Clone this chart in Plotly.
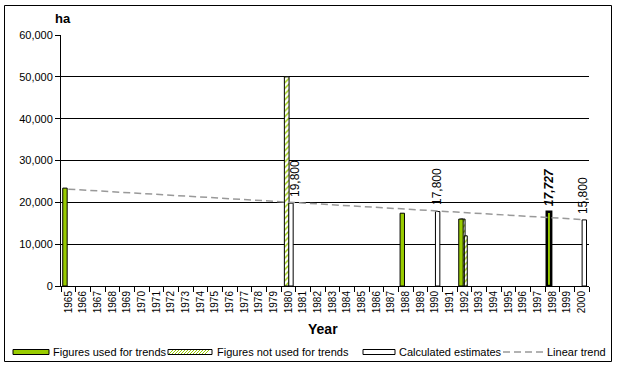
import plotly.graph_objects as go

# ---------------- data ----------------
years = ["1965", "1966", "1967", "1968", "1969", "1970", "1971", "1972", "1973",
         "1974", "1975", "1976", "1977", "1978", "1979", "1980", "1981", "1982",
         "1983", "1984", "1985", "1986", "1987", "1988", "1989", "1990", "1991",
         "1992", "1993", "1994", "1995", "1996", "1997", "1998", "1999", "2000"]

used_years = ["1965", "1988", "1992", "1998"]
used_values = [23400, 17400, 16000, 17727]

not_used_years = ["1980", "1992"]
not_used_values = [50000, 16000]

not_used2_years = ["1992"]
not_used2_values = [12000]

estimate_years = ["1980", "1990", "2000"]
estimate_values = [19800, 17800, 15800]

trend_years = ["1965", "2000"]
trend_values = [23150, 15900]

highlight_year = "1998"

series_names = ["Figures used for trends", "Figures not used for trends",
                "Calculated estimates", "Linear trend"]

y_ticks = [0, 10000, 20000, 30000, 40000, 50000, 60000]

# ---------------- styling ----------------
W, H = 618, 367
GREEN = "#99cc00"
FONT = "Liberation Sans, Arial, sans-serif"
PL, PR, PT, PB = 61, 589, 35, 286  # plot area in pixels


def px(x):
    return x / W


def py(y):
    return 1 - y / H


fig = go.Figure()

hatch = dict(shape="/", fgcolor=GREEN, bgcolor="white", size=4, solidity=0.35)

fig.add_trace(go.Bar(
    x=not_used_years, y=not_used_values, name=series_names[1],
    offset=-0.27, width=0.32,
    marker=dict(color="white", line=dict(color="black", width=1), pattern=hatch),
    showlegend=False,
))
fig.add_trace(go.Bar(
    x=not_used2_years, y=not_used2_values, name=series_names[1],
    offset=0.0, width=0.2,
    marker=dict(color="white", line=dict(color="black", width=1), pattern=hatch),
    showlegend=False,
))
fig.add_trace(go.Bar(
    x=estimate_years, y=estimate_values, name=series_names[2],
    offset=0.03, width=0.3,
    marker=dict(color="white", line=dict(color="black", width=1)),
    showlegend=False,
))
fig.add_trace(go.Bar(
    x=used_years, y=used_values, name=series_names[0],
    offset=-0.38, width=0.3,
    marker=dict(color=GREEN,
                line=dict(color="black",
                          width=[2.5 if yr == highlight_year else 1 for yr in used_years])),
    showlegend=False,
))
fig.add_trace(go.Scatter(
    x=trend_years, y=trend_values, mode="lines", name=series_names[3],
    line=dict(color="#999999", width=1.5, dash="7px,4px"),
    showlegend=False,
))

fig.update_layout(
    width=W, height=H,
    margin=dict(l=0, r=0, t=0, b=0),
    paper_bgcolor="white", plot_bgcolor="white",
    template="none",
    barmode="overlay",
    showlegend=False,
    font=dict(family=FONT, size=11, color="black"),
    xaxis=dict(
        domain=[px(PL), px(PR)],
        type="category", categoryorder="array", categoryarray=years,
        range=[-0.5, len(years) - 0.5],
        tickmode="array", tickvals=years, ticktext=years,
        tickangle=-90, tickfont=dict(family=FONT, size=10),
        ticks="outside", ticklen=5, tickcolor="black", tickson="boundaries",
        showline=True, linecolor="black", linewidth=1,
        showgrid=False, zeroline=False, automargin=False,
    ),
    yaxis=dict(
        domain=[py(PB), py(PT)],
        range=[0, 60000], tickvals=y_ticks, tickformat=",",
        tickfont=dict(family=FONT, size=11),
        ticks="outside", ticklen=5, tickcolor="black",
        showline=True, linecolor="black", linewidth=1,
        showgrid=True, gridcolor="black", gridwidth=1,
        zeroline=False, automargin=False,
    ),
)

shapes = []
annotations = []

# value labels (rotated), placed from the data (category index on x)
for yr, v in zip(estimate_years, estimate_values):
    annotations.append(dict(x=years.index(yr), y=v, xref="x", yref="y",
                            text=f"{v:,}",
                            showarrow=False, textangle=-90,
                            xanchor="center", yanchor="bottom",
                            xshift=6 if yr == "1980" else 2, yshift=4,
                            font=dict(family=FONT, size=12, color="black")))
for yr, v in zip(used_years, used_values):
    if yr == highlight_year:
        annotations.append(dict(x=years.index(yr), y=v, xref="x", yref="y",
                                text=f"<b><i>{v:,}</i></b>",
                                showarrow=False, textangle=-90,
                                xanchor="center", yanchor="bottom",
                                xshift=-3, yshift=4,
                                font=dict(family=FONT, size=12, color="black")))

# outer border
shapes.append(dict(type="rect", xref="paper", yref="paper",
                   x0=px(4.5), x1=px(611.5), y0=py(361.5), y1=py(5.5),
                   line=dict(color="black", width=1), fillcolor="rgba(0,0,0,0)",
                   layer="above"))

# axis titles
annotations.append(dict(text="<b>ha</b>", xref="paper", yref="paper",
                        x=px(63), y=py(19), showarrow=False,
                        font=dict(family=FONT, size=13, color="black"),
                        xanchor="center", yanchor="middle"))
annotations.append(dict(text="<b>Year</b>", xref="paper", yref="paper",
                        x=px(323), y=py(329), showarrow=False,
                        font=dict(family=FONT, size=14, color="black"),
                        xanchor="center", yanchor="middle"))

# custom legend
ly0, ly1, lyc = 349.5, 354.5, 352
shapes.append(dict(type="rect", xref="paper", yref="paper",
                   x0=px(13), x1=px(49), y0=py(ly1), y1=py(ly0),
                   line=dict(color="black", width=1), fillcolor=GREEN))
hx0, hx1 = 168, 212
shapes.append(dict(type="rect", xref="paper", yref="paper",
                   x0=px(hx0), x1=px(hx1), y0=py(ly1), y1=py(ly0),
                   line=dict(color="black", width=1), fillcolor="white"))
xx = hx0 + 1
while xx + 4 <= hx1 - 1:
    shapes.append(dict(type="line", xref="paper", yref="paper",
                       x0=px(xx), x1=px(xx + 4), y0=py(ly1 - 0.5), y1=py(ly0 + 0.5),
                       line=dict(color=GREEN, width=1)))
    xx += 3
shapes.append(dict(type="rect", xref="paper", yref="paper",
                   x0=px(363), x1=px(395), y0=py(ly1), y1=py(ly0),
                   line=dict(color="black", width=1), fillcolor="white"))
shapes.append(dict(type="line", xref="paper", yref="paper",
                   x0=px(503), x1=px(543), y0=py(lyc), y1=py(lyc),
                   line=dict(color="#999999", width=1.5, dash="7px,4px")))

for name, xpos in zip(series_names, [51, 215, 397, 545]):
    annotations.append(dict(text=name, xref="paper", yref="paper",
                            x=px(xpos), y=py(lyc), showarrow=False,
                            font=dict(family=FONT, size=11, color="black"),
                            xanchor="left", yanchor="middle"))

fig.update_layout(shapes=shapes, annotations=annotations)

fig.write_html("out.html",
               config={"displayModeBar": False},
               post_script="document.body.style.margin='0px';"
                           "document.body.style.padding='0px';")
